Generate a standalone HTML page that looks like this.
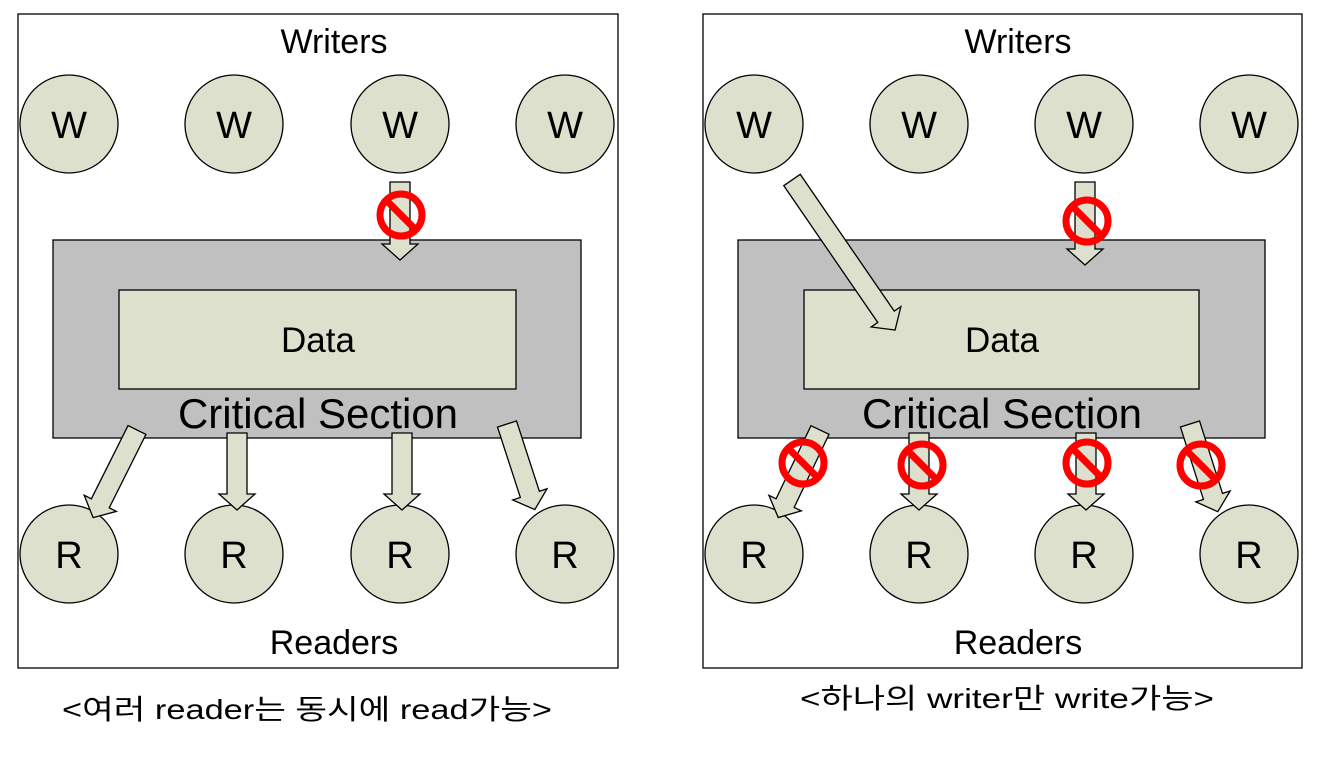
<!DOCTYPE html>
<html><head><meta charset="utf-8"><style>
html,body{margin:0;padding:0;background:#fff;}
svg{display:block;}
text{font-family:"Liberation Sans","NanumGothic",sans-serif;fill:#000;}
.k{font-family:"Liberation Sans","Noto Sans CJK KR",sans-serif;}
</style></head><body>
<svg width="1336" height="759" viewBox="0 0 1336 759" xmlns="http://www.w3.org/2000/svg">
<defs>
<g id="no"><circle r="21" fill="none" stroke="#ff0000" stroke-width="7"/><line x1="-14" y1="-14" x2="14" y2="14" stroke="#ff0000" stroke-width="7"/></g>
</defs>
<g stroke="#000" stroke-width="1.3">
<rect x="18" y="14" width="600" height="654" fill="#fff"/>
<rect x="53" y="240" width="528" height="198" fill="#c0c0c0"/>
<rect x="119" y="290" width="397" height="99" fill="#dde0cc"/>
<g fill="#dde0cc">
<circle cx="69" cy="124" r="49"/><circle cx="234" cy="124" r="49"/><circle cx="400" cy="124" r="49"/><circle cx="565" cy="124" r="49"/>
<circle cx="69" cy="554" r="49"/><circle cx="234" cy="554" r="49"/><circle cx="400" cy="554" r="49"/><circle cx="565" cy="554" r="49"/>
</g>
<g fill="#dde0cc">
<polygon transform="translate(400,182)" points="-10,0 10,0 10,62 18,62 0,78 -18,62 -10,62"/>
<polygon transform="translate(137,430) rotate(26.6)" points="-10,0 10,0 10,82 18,82 0,98 -18,82 -10,82"/>
<polygon transform="translate(237,433)" points="-10,0 10,0 10,61 18,61 0,77 -18,61 -10,61"/>
<polygon transform="translate(402,433)" points="-10,0 10,0 10,61 18,61 0,77 -18,61 -10,61"/>
<polygon transform="translate(507,424) rotate(-18)" points="-10,0 10,0 10,74 18,74 0,90 -18,74 -10,74"/>
</g>
<rect x="703" y="14" width="599" height="654" fill="#fff"/>
<rect x="738" y="240" width="527" height="198" fill="#c0c0c0"/>
<rect x="804" y="290" width="395" height="99" fill="#dde0cc"/>
<g fill="#dde0cc">
<circle cx="754" cy="124" r="49"/><circle cx="919" cy="124" r="49"/><circle cx="1084" cy="124" r="49"/><circle cx="1249" cy="124" r="49"/>
<circle cx="754" cy="554" r="49"/><circle cx="919" cy="554" r="49"/><circle cx="1084" cy="554" r="49"/><circle cx="1249" cy="554" r="49"/>
</g>
<g fill="#dde0cc">
<polygon transform="translate(1085,182)" points="-10,0 10,0 10,67 18,67 0,83 -18,67 -10,67"/>
<polygon transform="translate(792,180) rotate(-34.5)" points="-10,0 10,0 10,166 18,166 0,182 -18,166 -10,166"/>
<polygon transform="translate(820,430) rotate(25.5)" points="-10,0 10,0 10,81 18,81 0,97 -18,81 -10,81"/>
<polygon transform="translate(919,433)" points="-10,0 10,0 10,61 18,61 0,77 -18,61 -10,61"/>
<polygon transform="translate(1086,433)" points="-10,0 10,0 10,61 18,61 0,77 -18,61 -10,61"/>
<polygon transform="translate(1190,424) rotate(-17.6)" points="-10,0 10,0 10,76 18,76 0,92 -18,76 -10,76"/>
</g>
</g>
<use href="#no" x="401" y="215"/>
<use href="#no" x="1087" y="221"/>
<use href="#no" x="803" y="463"/>
<use href="#no" x="922" y="465"/>
<use href="#no" x="1087" y="463"/>
<use href="#no" x="1201" y="465"/>
<g font-size="38" text-anchor="middle">
<text x="69" y="138">W</text><text x="234" y="138">W</text><text x="400" y="138">W</text><text x="565" y="138">W</text>
<text x="69" y="568">R</text><text x="234" y="568">R</text><text x="400" y="568">R</text><text x="565" y="568">R</text>
<text x="754" y="138">W</text><text x="919" y="138">W</text><text x="1084" y="138">W</text><text x="1249" y="138">W</text>
<text x="754" y="568">R</text><text x="919" y="568">R</text><text x="1084" y="568">R</text><text x="1249" y="568">R</text>
</g>
<g font-size="34" text-anchor="middle">
<text x="334" y="53">Writers</text><text x="334" y="654">Readers</text>
<text x="1018" y="53">Writers</text><text x="1018" y="654">Readers</text>
</g>
<g font-size="35" text-anchor="middle">
<text x="318" y="352">Data</text><text x="1002" y="352">Data</text>
</g>
<g font-size="42" text-anchor="middle">
<text x="318" y="428">Critical Section</text>
<text x="1002" y="428">Critical Section</text>
</g>
<text class="k" x="62" y="719" font-size="28" textLength="490" lengthAdjust="spacingAndGlyphs">&lt;여러 reader는 동시에 read가능&gt;</text>
<text class="k" x="800" y="708" font-size="28" textLength="414" lengthAdjust="spacingAndGlyphs">&lt;하나의 writer만 write가능&gt;</text>
</svg>
</body></html>
